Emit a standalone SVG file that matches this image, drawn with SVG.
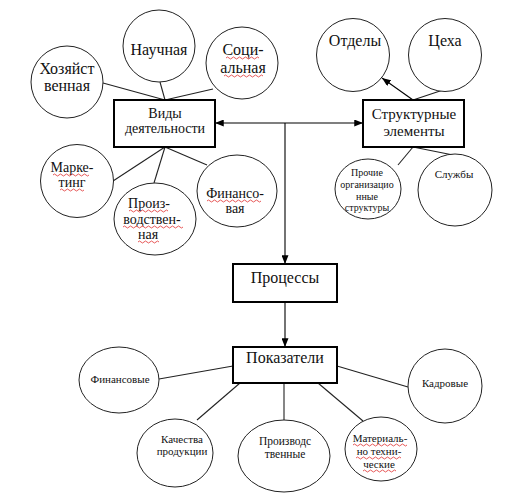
<svg xmlns="http://www.w3.org/2000/svg" width="515" height="499" viewBox="0 0 515 499">
<defs>
<marker id="arr" viewBox="0 0 10 8" refX="10" refY="4" markerWidth="9" markerHeight="7" markerUnits="userSpaceOnUse" orient="auto-start-reverse">
<path d="M0,0 L10,4 L0,8 z" fill="#000"/>
</marker>
<style>
.c{fill:#fff;stroke:#222;stroke-width:1}
.b{fill:#fff;stroke:#000;stroke-width:2}
.l{stroke:#222;stroke-width:1.1;fill:none}
.a{stroke:#000;stroke-width:1.1;fill:none;marker-end:url(#arr)}
text{font-family:'Liberation Serif','DejaVu Serif',serif;fill:#111;text-anchor:middle}
.t16{font-size:16px}
.t15{font-size:15px}
.t14{font-size:14px}
.t11{font-size:11px}
.t10{font-size:10px}
.sp{stroke:#e03030;stroke-width:0.8;fill:none}
</style>
</defs>
<rect width="515" height="499" fill="#fff"/>
<g id="connectors">
<line class="l" x1="103" y1="83" x2="165" y2="100"/>
<line class="l" x1="160" y1="82" x2="165" y2="100"/>
<line class="l" x1="213" y1="89" x2="165" y2="100"/>
<line class="l" x1="165" y1="147" x2="113" y2="181"/>
<line class="l" x1="165" y1="147" x2="154" y2="183"/>
<line class="l" x1="165" y1="147" x2="207" y2="165"/>
<line class="a" x1="413" y1="100" x2="382" y2="78"/>
<line class="l" x1="413" y1="100" x2="443" y2="90"/>
<line class="l" x1="413" y1="147" x2="398" y2="165"/>
<line class="l" x1="413" y1="147" x2="453" y2="155"/>
<line class="a" x1="285" y1="123" x2="215" y2="123"/>
<line class="a" x1="285" y1="123" x2="363" y2="123"/>
<line class="a" x1="285" y1="123" x2="285" y2="264"/>
<line class="a" x1="285" y1="302" x2="285" y2="347"/>
<line class="l" x1="233" y1="366" x2="159" y2="379"/>
<line class="l" x1="337" y1="366" x2="408" y2="387"/>
<line class="l" x1="240" y1="383" x2="197" y2="420"/>
<line class="l" x1="284" y1="383" x2="284" y2="420"/>
<line class="l" x1="318" y1="383" x2="363" y2="421"/>
</g>
<g font-family="Liberation Serif, DejaVu Serif, serif">
<g id="n-hoz">
<circle class="c" cx="67" cy="82" r="36"/>
<text class="t16" x="67" y="74">Хозяйст</text>
<text class="t16" x="67" y="91">венная</text>
</g>
<g id="n-nauch">
<circle class="c" cx="159" cy="46" r="36"/>
<text class="t16" x="159" y="55">Научная</text>
</g>
<g id="n-soc">
<circle class="c" cx="242" cy="63" r="36"/>
<text class="t16" x="243" y="55">Соци-</text>
<text class="t16" x="243" y="73">альная</text>
<path class="sp" d="M226,58 q1.5,-2 3,0 t3,0 t3,0 t3,0 t3,0 t3,0 t3,0 t3,0 t3,0 t3,0 t3,0 M224,76 q1.5,-2 3,0 t3,0 t3,0 t3,0 t3,0 t3,0 t3,0 t3,0 t3,0 t3,0 t3,0 t3,0 t3,0"/>
</g>
<g id="n-vidy">
<rect class="b" x="114" y="100" width="101" height="47"/>
<text class="t14" x="165" y="118">Виды</text>
<text class="t14" x="165" y="133">деятельности</text>
</g>
<g id="n-otdely">
<circle class="c" cx="353" cy="55" r="36.5"/>
<text class="t16" x="355" y="46">Отделы</text>
</g>
<g id="n-ceha">
<circle class="c" cx="445" cy="55" r="36.5"/>
<text class="t16" x="445" y="46">Цеха</text>
</g>
<g id="n-struct">
<rect class="b" x="363" y="100" width="101" height="47"/>
<text class="t15" x="414" y="119">Структурные</text>
<text class="t15" x="414" y="136">элементы</text>
</g>
<g id="n-market">
<circle class="c" cx="77" cy="181" r="36.5"/>
<text class="t14" x="72" y="172">Марке-</text>
<text class="t14" x="72" y="187">тинг</text>
<path class="sp" d="M53,175 q1.5,-2 3,0 t3,0 t3,0 t3,0 t3,0 t3,0 t3,0 t3,0 t3,0 t3,0 t3,0 t3,0 M60,190 q1.5,-2 3,0 t3,0 t3,0 t3,0 t3,0 t3,0 t3,0 t3,0"/>
</g>
<g id="n-proizv">
<ellipse class="c" cx="155" cy="219" rx="41" ry="36"/>
<text class="t14" x="149" y="208">Произ-</text>
<text class="t14" x="152" y="224">водствен-</text>
<text class="t14" x="148" y="239">ная</text>
<path class="sp" d="M129,211 q1.5,-2 3,0 t3,0 t3,0 t3,0 t3,0 t3,0 t3,0 t3,0 t3,0 t3,0 t3,0 t3,0 t3,0 M123,227 q1.5,-2 3,0 t3,0 t3,0 t3,0 t3,0 t3,0 t3,0 t3,0 t3,0 t3,0 t3,0 t3,0 t3,0 t3,0 t3,0 t3,0 t3,0 t3,0 t3,0 t3,0 M138,242 q1.5,-2 3,0 t3,0 t3,0 t3,0 t3,0 t3,0 t3,0"/>
</g>
<g id="n-fin">
<ellipse class="c" cx="237" cy="191" rx="40" ry="36"/>
<text class="t14" x="235" y="198">Финансо-</text>
<text class="t14" x="235" y="213">вая</text>
<path class="sp" d="M207,201 q1.5,-2 3,0 t3,0 t3,0 t3,0 t3,0 t3,0 t3,0 t3,0 t3,0 t3,0 t3,0 t3,0 t3,0 t3,0 t3,0 t3,0 t3,0 t3,0"/>
</g>
<g id="n-prochie">
<ellipse class="c" cx="368" cy="189" rx="33" ry="30"/>
<text class="t10" x="367" y="176">Прочие</text>
<text class="t10" x="367" y="188">организацио</text>
<text class="t10" x="367" y="200">нные</text>
<text class="t10" x="367" y="211">структуры</text>
</g>
<g id="n-sluzhby">
<ellipse class="c" cx="455" cy="190" rx="37" ry="36"/>
<text class="t11" x="454" y="178">Службы</text>
</g>
<g id="n-proc">
<rect class="b" x="233" y="264" width="104" height="38"/>
<text class="t16" x="285" y="283">Процессы</text>
</g>
<g id="n-pokaz">
<rect class="b" x="233" y="347" width="104" height="36"/>
<text class="t16" x="285" y="363">Показатели</text>
</g>
<g id="n-finans">
<ellipse class="c" cx="119" cy="380" rx="40" ry="33"/>
<text class="t11" x="120" y="383">Финансовые</text>
</g>
<g id="n-kadr">
<circle class="c" cx="445" cy="386" r="37"/>
<text class="t11" x="445" y="387">Кадровые</text>
</g>
<g id="n-kach">
<ellipse class="c" cx="175" cy="453" rx="38" ry="34"/>
<text class="t11" x="182" y="443">Качества</text>
<text class="t11" x="182" y="455">продукции</text>
</g>
<g id="n-proizvodst">
<ellipse class="c" cx="284" cy="456" rx="46" ry="36"/>
<text x="285" y="445" font-size="11.5">Производс</text>
<text x="285" y="458" font-size="11.5">твенные</text>
</g>
<g id="n-mat">
<ellipse class="c" cx="381" cy="449" rx="36" ry="32"/>
<text class="t11" x="380" y="442">Материаль-</text>
<text class="t11" x="379" y="455">но техни-</text>
<text class="t11" x="379" y="468">ческие</text>
<path class="sp" d="M353,445 q1.5,-2 3,0 t3,0 t3,0 t3,0 t3,0 t3,0 t3,0 t3,0 t3,0 t3,0 t3,0 t3,0 t3,0 t3,0 t3,0 t3,0 t3,0 t3,0 M356,458 q1.5,-2 3,0 t3,0 t3,0 t3,0 t3,0 t3,0 t3,0 t3,0 t3,0 t3,0 t3,0 t3,0 t3,0 t3,0 t3,0 M363,471 q1.5,-2 3,0 t3,0 t3,0 t3,0 t3,0 t3,0 t3,0 t3,0 t3,0 t3,0 t3,0"/>
</g>
</g>
</svg>
